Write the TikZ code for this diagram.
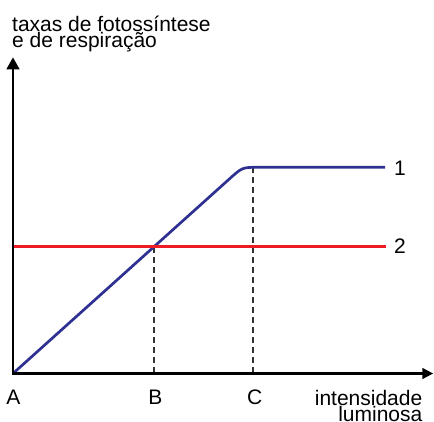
\documentclass[tikz,border=0pt]{standalone}
\usepackage{fontspec}
\setmainfont{Liberation Sans}
\usetikzlibrary{arrows.meta}
\definecolor{curveblue}{HTML}{2E3192}
\definecolor{curvered}{HTML}{ED1C24}
\definecolor{dashgray}{HTML}{333333}
\tikzset{
  lbl/.style={inner sep=0pt, font=\fontsize{21}{15}\selectfont},
  axisline/.style={line width=2.7pt, black, line join=miter},
  rate1/.style={line width=2.7pt, curveblue, line join=round},
  rate2/.style={line width=2.8pt, curvered},
  guide/.style={line width=1.4pt, dashgray, dash pattern=on 6pt off 4pt},
}
\begin{document}
\begin{tikzpicture}[x=1pt,y=-1pt]
\useasboundingbox (0,0) rectangle (434,422);
% key coordinates
\coordinate (O) at (13,373.5);
\coordinate (ytip) at (13,57.3);
\coordinate (xtip) at (433.3,373.5);
\coordinate (Bp) at (154,246.7);
\coordinate (Bb) at (154,373.5);
\coordinate (Cp) at (253,167.3);
\coordinate (Cb) at (253,373.5);
\coordinate (k1) at (229,179.3);
\coordinate (k2) at (242.3,167.3);
\coordinate (k3) at (258,167.3);
\coordinate (e1) at (385,167.3);
\coordinate (s2) at (13,246.7);
\coordinate (e2) at (386,246.7);
% dashed guides
\draw[guide] (Bp) -- (Bb);
\draw[guide] (Cp) -- (Cb);
% curve 1
\draw[rate1] (O) -- (k1) .. controls (k2) .. (k3) -- (e1);
% line 2
\draw[rate2] (s2) -- (e2);
% axes
\draw[axisline, {Triangle[length=12pt,width=12.5pt]}-{Triangle[length=11pt,width=10.5pt]}] (ytip) |- (xtip);
% labels
\node[lbl, anchor=base west] (ylab1) at (12,31.5) {taxas de fotossíntese};
\node[lbl, anchor=base west] (ylab2) at (12,48) {e de respiração};
\node[lbl, anchor=base] (la) at (13.5,404.3) {A};
\node[lbl, anchor=base] (lb) at (155.5,404.3) {B};
\node[lbl, anchor=base] (lc) at (254.7,404.3) {C};
\node[lbl, anchor=base east] (xlab1) at (422.5,405.5) {intensidade};
\node[lbl, anchor=base east] (xlab2) at (422.5,421) {luminosa};
\node[lbl, anchor=base] (n1) at (400,175.5) {1};
\node[lbl, anchor=base] (n2) at (400,254) {2};
\end{tikzpicture}
\end{document}
